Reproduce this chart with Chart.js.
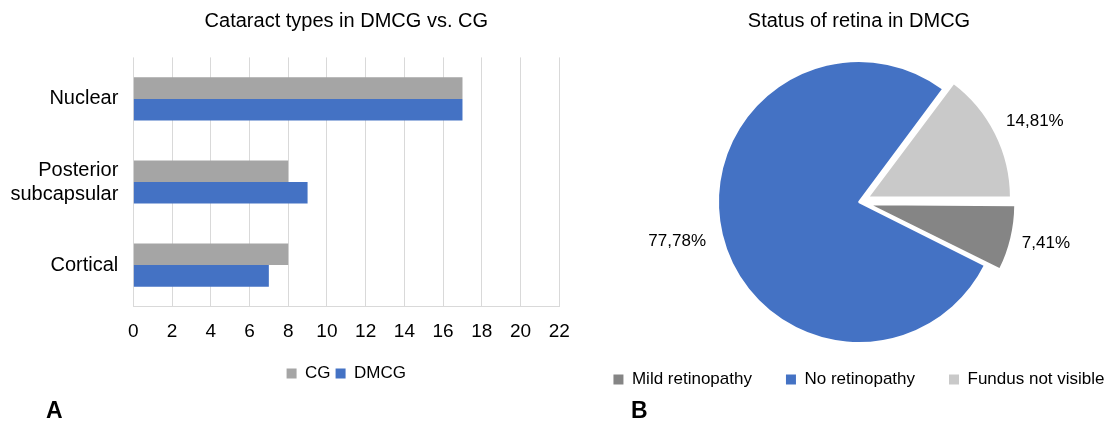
<!DOCTYPE html>
<html>
<head>
<meta charset="utf-8">
<script src="https://cdn.jsdelivr.net/npm/chart.js@4.4.1/dist/chart.umd.min.js"></script>
<style>
html,body{margin:0;padding:0;background:#fff;overflow:hidden;width:1118px;height:424px;}
#c1{position:absolute;left:0;top:0;}
#c2{position:absolute;left:574px;top:0;}
.tag{position:absolute;font-family:"Liberation Sans",Arial,sans-serif;font-weight:bold;font-size:23px;color:#000;line-height:1;}
</style>
</head>
<body>
<canvas id="c1" width="600" height="424"></canvas>
<canvas id="c2" width="570" height="424"></canvas>
<div class="tag" style="left:46px;top:399px">A</div>
<div class="tag" style="left:631px;top:399px">B</div>
<script>
// ---- data ----
const cataractTypes = ['Nuclear', ['Posterior', 'subcapsular'], 'Cortical'];
const cgValues = [17, 8, 8];
const dmcgValues = [17, 9, 7];
const xTickValues = [0, 2, 4, 6, 8, 10, 12, 14, 16, 18, 20, 22];
const seriesNames = ['CG', 'DMCG'];

const retinaLabels = ['Mild retinopathy', 'No retinopathy', 'Fundus not visible'];
const retinaPercents = [7.41, 77.78, 14.81];

const FONT = '"Liberation Sans", Arial, sans-serif';
Chart.defaults.font.family = FONT;
Chart.defaults.color = '#000';

// ---- bar chart ----
new Chart(document.getElementById('c1'), {
  type: 'bar',
  data: {
    labels: cataractTypes,
    datasets: [
      { label: seriesNames[0], data: cgValues, backgroundColor: '#a5a5a5', borderWidth: 0,
        categoryPercentage: 0.52, barPercentage: 1 },
      { label: seriesNames[1], data: dmcgValues, backgroundColor: '#4472c4', borderWidth: 0,
        categoryPercentage: 0.52, barPercentage: 1 }
    ]
  },
  options: {
    indexAxis: 'y',
    responsive: false,
    animation: false,
    devicePixelRatio: 1,
    events: [],
    layout: { padding: { left: 0, right: 40.7, top: 0, bottom: 32 } },
    plugins: {
      title: {
        display: true, fullSize: false,
        text: 'Cataract types in DMCG vs. CG',
        color: '#000',
        font: { family: FONT, size: 20, weight: 'normal' },
        padding: { top: 9, bottom: 24.4 }
      },
      legend: {
        position: 'bottom', fullSize: false,
        labels: { boxWidth: 10, boxHeight: 10, padding: 5, color: '#000',
                  font: { family: FONT, size: 17 } }
      },
      tooltip: { enabled: false }
    },
    scales: {
      x: {
        min: xTickValues[0], max: xTickValues[xTickValues.length - 1],
        afterBuildTicks: s => { s.ticks = xTickValues.map(v => ({ value: v })); },
        grid: { color: '#d9d9d9', drawTicks: false, lineWidth: 1 },
        border: { display: true, color: '#d9d9d9' },
        ticks: { color: '#000', font: { family: FONT, size: 19 }, padding: 13.5, maxRotation: 0 },
        afterFit: s => { s.height = 53.4; }
      },
      y: {
        grid: { display: false, drawTicks: false },
        border: { display: false },
        ticks: { color: '#000', font: { family: FONT, size: 20 }, padding: 15 },
        afterFit: s => { s.width = 133.3; }
      }
    }
  }
});

// ---- pie chart ----
const pieLabelPlugin = {
  id: 'pieLabels',
  afterDatasetsDraw(chart) {
    const ctx = chart.ctx;
    const meta = chart.getDatasetMeta(0);
    ctx.save();
    ctx.font = '17px ' + FONT;
    ctx.fillStyle = '#000';
    ctx.textAlign = 'center';
    ctx.textBaseline = 'middle';
    meta.data.forEach((arc, i) => {
      const p = arc.getProps(['x', 'y', 'startAngle', 'endAngle', 'outerRadius'], true);
      const mid = (p.startAngle + p.endAngle) / 2;
      const shift = (arc.options.offset || 0) / 4;
      const txt = retinaPercents[i].toFixed(2).replace('.', ',') + '%';
      const w = ctx.measureText(txt).width;
      const c = Math.cos(mid), s = Math.sin(mid);
      const R = p.outerRadius + shift + 17;
      ctx.fillText(txt, p.x + c * (R + w / 2), p.y + s * (R + 12));
    });
    ctx.restore();
  }
};

new Chart(document.getElementById('c2'), {
  type: 'pie',
  data: {
    labels: retinaLabels,
    datasets: [{
      data: retinaPercents,
      backgroundColor: ['#858585', '#4472c4', '#c9c9c9'],
      borderColor: '#ffffff',
      borderWidth: 2,
      offset: [40, 0, 40],
      clip: false
    }]
  },
  options: {
    responsive: false,
    animation: false,
    devicePixelRatio: 1,
    events: [],
    rotation: 90,
    radius: 141,
    layout: { padding: { left: 0, right: 0, top: 0, bottom: 26 } },
    plugins: {
      title: {
        display: true,
        text: 'Status of retina in DMCG',
        color: '#000',
        font: { family: FONT, size: 20, weight: 'normal' },
        padding: { top: 9, bottom: 34 }
      },
      legend: {
        position: 'bottom',
        labels: {
          boxWidth: 10, boxHeight: 10, padding: 34, color: '#000',
          font: { family: FONT, size: 17 },
          generateLabels: (chart) =>
            Chart.overrides.pie.plugins.legend.labels.generateLabels(chart)
              .map(l => Object.assign(l, { lineWidth: 0, strokeStyle: 'rgba(0,0,0,0)' }))
        }
      },
      tooltip: { enabled: false }
    }
  },
  plugins: [pieLabelPlugin]
});
</script>
</body>
</html>
